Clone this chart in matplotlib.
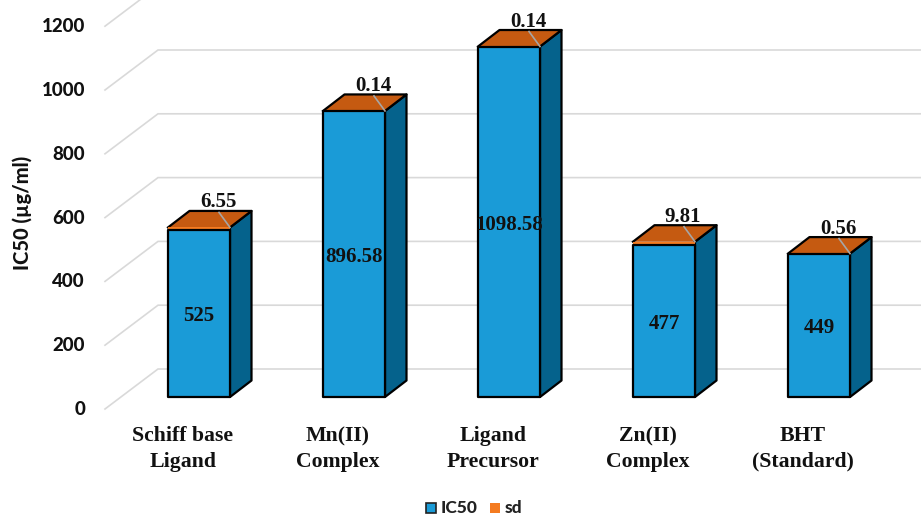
import matplotlib
matplotlib.use("Agg")
import matplotlib.pyplot as plt
from matplotlib.patches import Polygon, Rectangle

categories = ["Schiff base\nLigand", "Mn(II)\nComplex", "Ligand\nPrecursor",
              "Zn(II)\nComplex", "BHT\n(Standard)"]
ic50 = [525, 896.58, 1098.58, 477, 449]
sd = [6.55, 0.14, 0.14, 9.81, 0.56]
ic50_labels = ["525", "896.58", "1098.58", "477", "449"]
sd_labels = ["6.55", "0.14", "0.14", "9.81", "0.56"]
yticks = [0, 200, 400, 600, 800, 1000, 1200]

W, H = 921, 516
PX_X = 155.0     # pixels per category
PX_Y = 0.319     # pixels per unit of IC50
X0 = 199         # pixel of first category centre
Y0 = 397         # pixel of value 0 at the bar front

BLUE = "#1A9BD7"
BLUE_SIDE = "#05628C"
ORANGE_TOP = "#C55A11"
ORANGE = "#F47B20"
GRID = "#D9D9D9"
SANS = "Lato"
SERIF = "Liberation Serif"
INK = "#111111"


def dx(px):
    return px / PX_X


def dy(px):
    return px / PX_Y


fig = plt.figure(figsize=(W / 100, H / 100), dpi=100)
ax = fig.add_axes([0, 0, 1, 1])
ax.set_xlim(-X0 / PX_X, (W - X0) / PX_X)
ax.set_ylim(-(H - Y0) / PX_Y, Y0 / PX_Y)
ax.axis("off")

# floor and wall lines, they sit behind the bars
grid_left = dx(105 - X0)
for v in yticks:
    front_y = v - dy(12)
    back_y = v + dy(28)
    ax.plot([grid_left, grid_left + dx(53), dx(W - X0)], [front_y, back_y, back_y],
            color=GRID, lw=1.2, zorder=1, solid_joinstyle="miter")
    ax.text(grid_left - dx(20), front_y - dy(0.5), str(v), ha="right", va="center",
            fontsize=13.5, fontweight=900, family=SANS, color=INK)

half = dx(31)
depth_x = dx(21.5)
depth_y = dy(16.5)
edge = dict(edgecolor="black", linewidth=1.6, joinstyle="round")

for i, (val, err) in enumerate(zip(ic50, sd)):
    top = val + err
    left = i - half
    right = i + half
    # side
    ax.add_patch(Polygon([(right, 0), (right + depth_x, depth_y),
                          (right + depth_x, top + depth_y), (right, top)],
                         facecolor=BLUE_SIDE, zorder=3, **edge))
    # sd cap on top, front edge stays open so the thin sd strip shows
    ax.add_patch(Polygon([(left, top), (left + depth_x, top + depth_y),
                          (right + depth_x, top + depth_y), (right, top)],
                         facecolor=ORANGE_TOP, edgecolor="none", zorder=3))
    ax.plot([left, left + depth_x, right + depth_x, right],
            [top, top + depth_y, top + depth_y, top], color="black", lw=1.6, zorder=3)
    ax.bar(i, err, bottom=val, width=2 * half, color=ORANGE, zorder=3.5)
    ax.bar(i, val, width=2 * half, color=BLUE, zorder=4, **edge)
    # leader line from the sd label
    ax.plot([i + half - dx(11), i + half], [top + dy(15), top],
            color="#A6A6A6", lw=1.2, zorder=5)

    ax.text(i, val * 0.5 - dy(3), ic50_labels[i], ha="center", va="center",
            fontsize=15, fontweight="bold", family=SERIF, color=INK, zorder=6)
    ax.text(i + dx(19), top + dy(25), sd_labels[i], ha="center", va="center",
            fontsize=15, fontweight="bold", family=SERIF, color=INK, zorder=6)
    ax.text(i - dx(16), -dy(52), categories[i], ha="center", va="center",
            fontsize=15.7, fontweight="bold", family=SERIF, color=INK,
            linespacing=1.38)

ax.text(dx(22 - X0), dy(Y0 - 213), "IC50 (µg/ml)", rotation=90, ha="center", va="center",
        fontsize=14.5, fontweight=900, family=SANS, color=INK)

# legend is laid out by hand to keep the tight spacing of the original
leg_y = -dy(508 - Y0)
ax.add_patch(Rectangle((dx(426 - X0), leg_y - dy(5)), dx(10), dy(10), facecolor=BLUE,
                       edgecolor="#222222", linewidth=1.2))
ax.text(dx(441 - X0), leg_y, "IC50", ha="left", va="center", fontsize=12.5,
        fontweight=900, family=SANS, color="#222222")
ax.add_patch(Rectangle((dx(490 - X0), leg_y - dy(5)), dx(10), dy(10), facecolor=ORANGE,
                       edgecolor="none"))
ax.text(dx(505 - X0), leg_y, "sd", ha="left", va="center", fontsize=12.5,
        fontweight=900, family=SANS, color="#222222")

fig.savefig("out.png", dpi=100, facecolor="white")
